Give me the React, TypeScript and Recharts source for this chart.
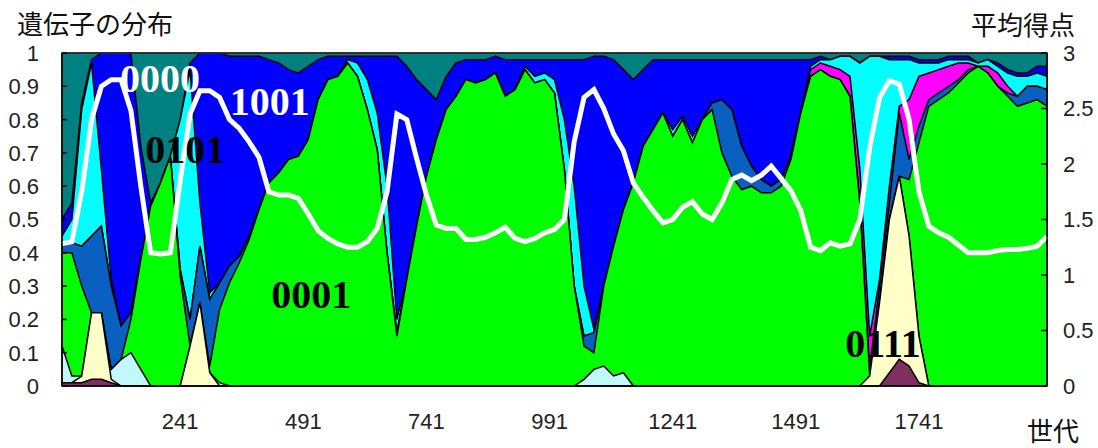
import { ComposedChart, Area, Line, XAxis, YAxis, ReferenceDot, ReferenceArea } from "recharts";

// 世代 (x)
const generations = [
  1, 21, 41, 61, 81, 101, 121, 141, 161, 181, 201, 221, 241, 261, 281, 301, 321, 341, 361, 381,
  401, 421, 441, 461, 481, 501, 521, 541, 561, 581, 601, 621, 641, 661, 681, 701, 721, 741, 761, 781,
  801, 821, 841, 861, 881, 901, 921, 941, 961, 981, 1001, 1021, 1041, 1061, 1081, 1101, 1121, 1141, 1161, 1181,
  1201, 1221, 1241, 1261, 1281, 1301, 1321, 1341, 1361, 1381, 1401, 1421, 1441, 1461, 1481, 1501, 1521, 1541, 1561, 1581,
  1601, 1621, 1641, 1661, 1681, 1701, 1721, 1741, 1761, 1781, 1801, 1821, 1841, 1861, 1881, 1901, 1921, 1941, 1961, 1981,
  2001,
];

// 累積の遺伝子分布（下の層から順に、各層の上端）
const maroonTop = [
  0.01, 0.01, 0.01, 0.02, 0.02, 0.01, 0, 0, 0, 0, 0, 0, 0, 0, 0, 0, 0, 0, 0, 0,
  0, 0, 0, 0, 0, 0, 0, 0, 0, 0, 0, 0, 0, 0, 0, 0, 0, 0, 0, 0,
  0, 0, 0, 0, 0, 0, 0, 0, 0, 0, 0, 0, 0, 0, 0, 0, 0, 0, 0, 0,
  0, 0, 0, 0, 0, 0, 0, 0, 0, 0, 0, 0, 0, 0, 0, 0, 0, 0, 0, 0,
  0, 0, 0, 0, 0.04, 0.08, 0.06, 0.01, 0, 0, 0, 0, 0, 0, 0, 0, 0, 0, 0, 0,
  0,
];
const yellowTop = [
  0.01, 0.01, 0.03, 0.22, 0.22, 0.02, 0, 0, 0, 0, 0, 0, 0, 0.12, 0.25, 0.04, 0, 0, 0, 0,
  0, 0, 0, 0, 0, 0, 0, 0, 0, 0, 0, 0, 0, 0, 0, 0, 0, 0, 0, 0,
  0, 0, 0, 0, 0, 0, 0, 0, 0, 0, 0, 0, 0, 0, 0, 0, 0, 0, 0, 0,
  0, 0, 0, 0, 0, 0, 0, 0, 0, 0, 0, 0, 0, 0, 0, 0, 0, 0, 0, 0,
  0, 0, 0.03, 0.25, 0.5, 0.63, 0.45, 0.15, 0, 0, 0, 0, 0, 0, 0, 0, 0, 0, 0, 0,
  0,
];
const paleCyanTop = [
  0.12, 0.03, 0.03, 0.22, 0.22, 0.05, 0.08, 0.1, 0.05, 0, 0, 0, 0, 0.12, 0.25, 0.04, 0.01, 0, 0, 0,
  0, 0, 0, 0, 0, 0, 0, 0, 0, 0, 0, 0, 0, 0, 0, 0, 0, 0, 0, 0,
  0, 0, 0, 0, 0, 0, 0, 0, 0, 0, 0, 0, 0, 0.02, 0.05, 0.06, 0.03, 0.04, 0, 0,
  0, 0, 0, 0, 0, 0, 0, 0, 0, 0, 0, 0, 0, 0, 0, 0, 0, 0, 0, 0,
  0, 0, 0.03, 0.25, 0.5, 0.63, 0.45, 0.15, 0, 0, 0, 0, 0, 0, 0, 0, 0, 0, 0, 0,
  0,
];
const greenTop = [
  0.4, 0.4, 0.3, 0.22, 0.22, 0.05, 0.08, 0.2, 0.38, 0.54, 0.61, 0.69, 0.33, 0.12, 0.25, 0.06, 0.23, 0.31, 0.37, 0.44,
  0.53, 0.61, 0.64, 0.68, 0.69, 0.74, 0.86, 0.92, 0.93, 0.97, 0.93, 0.83, 0.71, 0.4, 0.15, 0.32, 0.48, 0.63, 0.74, 0.83,
  0.87, 0.92, 0.91, 0.92, 0.94, 0.87, 0.89, 0.95, 0.91, 0.92, 0.88, 0.65, 0.3, 0.12, 0.1, 0.3, 0.42, 0.53, 0.61, 0.72,
  0.77, 0.82, 0.75, 0.8, 0.73, 0.8, 0.83, 0.7, 0.63, 0.59, 0.6, 0.58, 0.58, 0.6, 0.68, 0.82, 0.93, 0.95, 0.93, 0.92,
  0.87, 0.55, 0.03, 0.25, 0.5, 0.63, 0.62, 0.73, 0.84, 0.86, 0.88, 0.91, 0.94, 0.96, 0.94, 0.9, 0.87, 0.84, 0.85, 0.86,
  0.84,
];
const steelTop = [
  0.42, 0.43, 0.42, 0.45, 0.48, 0.3, 0.18, 0.22, 0.38, 0.54, 0.61, 0.69, 0.35, 0.2, 0.42, 0.26, 0.31, 0.36, 0.39, 0.45,
  0.53, 0.61, 0.64, 0.68, 0.69, 0.74, 0.86, 0.92, 0.93, 0.97, 0.93, 0.83, 0.71, 0.4, 0.16, 0.32, 0.48, 0.63, 0.74, 0.83,
  0.87, 0.92, 0.91, 0.92, 0.94, 0.87, 0.89, 0.95, 0.91, 0.92, 0.88, 0.65, 0.3, 0.15, 0.16, 0.3, 0.42, 0.53, 0.61, 0.72,
  0.77, 0.82, 0.75, 0.8, 0.73, 0.8, 0.85, 0.86, 0.83, 0.72, 0.66, 0.62, 0.6, 0.62, 0.69, 0.82, 0.93, 0.95, 0.93, 0.92,
  0.87, 0.55, 0.05, 0.3, 0.55, 0.82, 0.68, 0.78, 0.86, 0.88, 0.9, 0.92, 0.95, 0.96, 0.94, 0.9, 0.88, 0.87, 0.9, 0.9,
  0.89,
];
const magentaTop = [
  0.42, 0.43, 0.42, 0.45, 0.48, 0.3, 0.18, 0.22, 0.38, 0.54, 0.61, 0.69, 0.35, 0.2, 0.42, 0.26, 0.31, 0.36, 0.39, 0.45,
  0.53, 0.61, 0.64, 0.68, 0.69, 0.74, 0.86, 0.92, 0.93, 0.97, 0.93, 0.83, 0.71, 0.4, 0.16, 0.32, 0.48, 0.63, 0.74, 0.83,
  0.87, 0.92, 0.91, 0.92, 0.94, 0.87, 0.89, 0.95, 0.91, 0.92, 0.88, 0.65, 0.3, 0.15, 0.16, 0.3, 0.42, 0.53, 0.61, 0.72,
  0.77, 0.82, 0.75, 0.8, 0.73, 0.8, 0.85, 0.86, 0.83, 0.72, 0.66, 0.62, 0.6, 0.62, 0.69, 0.82, 0.95, 0.97, 0.96, 0.95,
  0.93, 0.65, 0.15, 0.32, 0.6, 0.84, 0.86, 0.93, 0.94, 0.95, 0.96, 0.97, 0.97, 0.96, 0.96, 0.94, 0.9, 0.87, 0.9, 0.9,
  0.89,
];
const cyanTop = [
  0.45, 0.5, 0.83, 0.97, 0.65, 0.32, 0.18, 0.22, 0.38, 0.54, 0.61, 0.69, 0.8, 0.95, 0.55, 0.28, 0.31, 0.36, 0.39, 0.45,
  0.53, 0.61, 0.64, 0.68, 0.69, 0.74, 0.86, 0.92, 0.93, 0.98, 0.97, 0.92, 0.82, 0.6, 0.2, 0.32, 0.48, 0.63, 0.74, 0.83,
  0.87, 0.92, 0.91, 0.92, 0.94, 0.87, 0.89, 0.96, 0.93, 0.94, 0.92, 0.8, 0.6, 0.3, 0.17, 0.3, 0.42, 0.53, 0.61, 0.72,
  0.77, 0.82, 0.77, 0.81, 0.75, 0.8, 0.85, 0.86, 0.83, 0.72, 0.66, 0.62, 0.6, 0.62, 0.69, 0.82, 0.96, 0.98, 0.98, 0.99,
  0.99, 0.97, 0.99, 0.99, 0.98, 0.98, 0.98, 0.97, 0.97, 0.97, 0.98, 0.98, 0.98, 0.97, 0.98, 0.96, 0.94, 0.93, 0.93, 0.94,
  0.93,
];
const blueTop = [
  0.5, 0.55, 0.85, 0.98, 1, 1, 1, 1, 0.72, 0.55, 0.61, 0.69, 0.8, 0.97, 1, 1, 1, 0.99, 0.99, 0.99,
  0.99, 0.98, 0.97, 0.95, 0.94, 0.96, 0.98, 0.99, 0.99, 0.99, 0.99, 0.99, 0.99, 0.99, 0.99, 0.96, 0.92, 0.89, 0.86, 0.93,
  0.97, 0.98, 0.98, 0.98, 0.99, 0.98, 0.98, 0.98, 0.98, 0.98, 0.98, 0.98, 0.98, 0.98, 0.99, 0.99, 0.98, 0.95, 0.92, 0.95,
  0.98, 0.98, 0.98, 0.98, 0.98, 0.98, 0.98, 0.98, 0.98, 0.98, 0.98, 0.98, 0.98, 0.98, 0.98, 0.98, 0.98, 0.99, 0.98, 0.99,
  0.99, 0.97, 0.99, 0.99, 0.99, 0.99, 0.99, 0.98, 0.98, 0.98, 0.99, 0.99, 0.99, 0.97, 0.98, 0.97, 0.95, 0.94, 0.94, 0.96,
  0.96,
];

// 平均得点 (右軸)
const scoreAvg = [
  1.28, 1.3, 1.75, 2.4, 2.7, 2.76, 2.76, 2.48, 1.8, 1.2, 1.19, 1.2, 1.85, 2.45, 2.66, 2.66, 2.6, 2.4, 2.32, 2.2,
  2.06, 1.75, 1.72, 1.72, 1.69, 1.55, 1.4, 1.33, 1.28, 1.25, 1.25, 1.3, 1.42, 1.75, 2.45, 2.4, 2.05, 1.72, 1.45, 1.42,
  1.42, 1.32, 1.32, 1.34, 1.38, 1.43, 1.33, 1.3, 1.33, 1.38, 1.41, 1.5, 2.2, 2.6, 2.67, 2.5, 2.27, 2.12, 1.83, 1.7,
  1.58, 1.47, 1.5, 1.61, 1.66, 1.55, 1.5, 1.65, 1.86, 1.9, 1.85, 1.9, 1.98, 1.87, 1.76, 1.58, 1.25, 1.22, 1.29, 1.26,
  1.28, 1.5, 2.15, 2.6, 2.75, 2.72, 2.4, 1.75, 1.44, 1.38, 1.34, 1.27, 1.2, 1.2, 1.2, 1.22, 1.23, 1.23, 1.24, 1.26,
  1.35,
];

const xTicks = [241, 491, 741, 991, 1241, 1491, 1741];
const leftTicks = [0, 0.1, 0.2, 0.3, 0.4, 0.5, 0.6, 0.7, 0.8, 0.9, 1];
const rightTicks = [0, 0.5, 1, 1.5, 2, 2.5, 3];

const annotations = [
  { text: "0000", gen: 200, share: 0.883, color: "#fff" },
  { text: "1001", gen: 423, share: 0.814, color: "#fff" },
  { text: "0101", gen: 251, share: 0.67, color: "#000" },
  { text: "0001", gen: 507, share: 0.234, color: "#000" },
  { text: "0111", gen: 1668, share: 0.087, color: "#000" },
];

const layers = [
  { key: "teal", color: "#008080" },
  { key: "blue", color: "#0000ff" },
  { key: "cyan", color: "#00ffff" },
  { key: "magenta", color: "#ff00ff" },
  { key: "steel", color: "#0a60c0" },
  { key: "green", color: "#00ff00" },
  { key: "paleCyan", color: "#c4f8ff" },
  { key: "yellow", color: "#ffffc8" },
  { key: "maroon", color: "#803060" },
];

const data = generations.map((gen, i) => ({
  gen,
  teal: 1,
  blue: blueTop[i],
  cyan: cyanTop[i],
  magenta: magentaTop[i],
  steel: steelTop[i],
  green: greenTop[i],
  paleCyan: paleCyanTop[i],
  yellow: yellowTop[i],
  maroon: maroonTop[i],
  score: scoreAvg[i],
}));

const tickFont = { fontFamily: "Liberation Sans, Arial, sans-serif", fontSize: 22, fill: "#222" };
const cjk = "'Noto Sans CJK JP', sans-serif";

const LeftTick = (props: any) => {
  const { x, y, payload } = props;
  return (
    <g>
      <line x1={x} x2={x + 5} y1={y} y2={y} stroke="#000" strokeWidth={1.5} />
      <text x={x - 23} y={y} dy="0.36em" textAnchor="end" {...tickFont}>
        {String(payload.value)}
      </text>
    </g>
  );
};

const RightTick = (props: any) => {
  const { x, y, payload } = props;
  return (
    <g>
      <line x1={x - 6} x2={x} y1={y} y2={y} stroke="#000" strokeWidth={1.5} />
      <text x={x + 16} y={y} dy="0.36em" textAnchor="start" {...tickFont}>
        {String(payload.value)}
      </text>
    </g>
  );
};

const titleStyle = { position: "absolute" as const, fontFamily: cjk, fontSize: 26, lineHeight: "26px", color: "#111", whiteSpace: "nowrap" as const };

export default function App() {
  return (
    <div style={{ position: "absolute", left: 0, top: 0, width: 1098, height: 448, background: "#fff", overflow: "hidden" }}>
      <ComposedChart width={1098} height={448} data={data} margin={{ top: 53, right: 0, bottom: 0, left: 0 }}>
        {layers.map((l) => (
          <Area
            key={l.key}
            yAxisId="left"
            type="linear"
            dataKey={l.key}
            fill={l.color}
            fillOpacity={1}
            stroke="#000"
            strokeWidth={1.5}
            baseValue={0}
            dot={false}
            activeDot={false}
            isAnimationActive={false}
          />
        ))}
        <Line
          yAxisId="right"
          type="linear"
          dataKey="score"
          stroke="#fff"
          strokeWidth={5}
          dot={false}
          activeDot={false}
          isAnimationActive={false}
        />
        {annotations.map((a) => (
          <ReferenceDot
            key={a.text}
            yAxisId="left"
            x={a.gen}
            y={a.share}
            r={0}
            shape={(p: any) => (
              <text
                x={p.cx}
                y={p.cy}
                textAnchor="middle"
                fontFamily="'Liberation Serif', 'Times New Roman', serif"
                fontWeight="bold"
                fontSize={40}
                fill={a.color}
              >
                {a.text}
              </text>
            )}
          />
        ))}
        <ReferenceArea yAxisId="left" x1={1} x2={2001} y1={0} y2={1} fill="none" stroke="#333" strokeWidth={1.5} />
        <XAxis
          dataKey="gen"
          type="number"
          domain={[1, 2001]}
          ticks={xTicks}
          height={62}
          axisLine={{ stroke: "#000", strokeWidth: 1.5 }}
          tickLine={false}
          tickSize={0}
          tickMargin={27}
          tick={tickFont}
        />
        <YAxis
          yAxisId="left"
          orientation="left"
          domain={[0, 1]}
          ticks={leftTicks}
          width={62}
          axisLine={{ stroke: "#000", strokeWidth: 1.5 }}
          tickLine={false}
          tickSize={0}
          tickMargin={0}
          tick={LeftTick}
        />
        <YAxis
          yAxisId="right"
          orientation="right"
          domain={[0, 3]}
          ticks={rightTicks}
          width={51}
          axisLine={{ stroke: "#000", strokeWidth: 1.5 }}
          tickLine={false}
          tickSize={0}
          tickMargin={0}
          tick={RightTick}
        />
      </ComposedChart>
      <div style={{ ...titleStyle, left: 17, top: 10 }}>遺伝子の分布</div>
      <div style={{ ...titleStyle, left: 971, top: 11 }}>平均得点</div>
      <div style={{ ...titleStyle, left: 1027, top: 417 }}>世代</div>
    </div>
  );
}
